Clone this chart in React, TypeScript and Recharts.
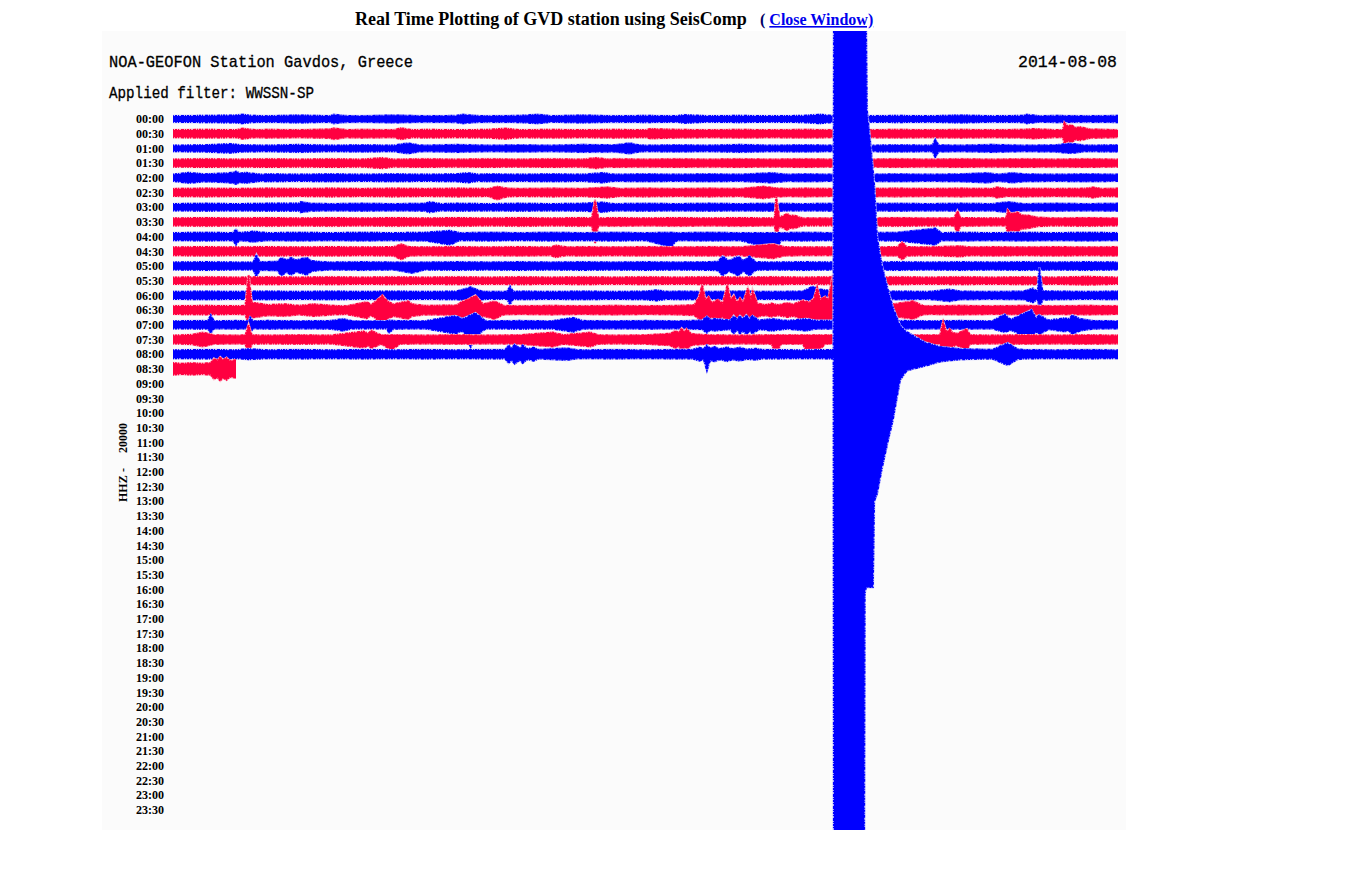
import React from "react";
import { ComposedChart, Area, XAxis, YAxis } from "recharts";

// helicorder: one line = 30 minutes, lines 20000 counts apart
const TIME_LABELS = [
  "00:00", "00:30", "01:00", "01:30", "02:00", "02:30", "03:00", "03:30",
  "04:00", "04:30", "05:00", "05:30", "06:00", "06:30", "07:00", "07:30",
  "08:00", "08:30", "09:00", "09:30", "10:00", "10:30", "11:00", "11:30",
  "12:00", "12:30", "13:00", "13:30", "14:00", "14:30", "15:00", "15:30",
  "16:00", "16:30", "17:00", "17:30", "18:00", "18:30", "19:00", "19:30",
  "20:00", "20:30", "21:00", "21:30", "22:00", "22:30", "23:00", "23:30",
];

// envelope knots per line: [minute, up, down?]  (k counts)
const r0000 = [[0,4],[1,4.5],[2,5],[2.2,6],[2.5,4.5],[3,4],[4,5],[5,4],[5.1,6],[5.4,4.5],[6,4],[7,5],[8,4],[9,4.5],[9.2,6],[9.6,4.5],[10,4],[11,4.5],[11.6,6],[12,4],[13,5],[14,4],[15,4.5],[16,4],[16.2,5.5],[17,4],[18,4.5],[19,4],[20,4.5],[20.55,6],[21,4],[22,4],[23,4.5],[24,4],[25,5],[26,4],[27,4.5],[27.1,6],[27.5,4],[28,4.5],[29,4],[30,4.5]];
const r0030 = [[0,5],[1,5.5],[2,5],[2.2,7],[2.6,5],[3,5.5],[4,5],[5,6],[5.1,7.5],[5.5,5],[6,5.5],[7,5],[7.25,7.5],[7.6,5],[8,5.5],[9,5],[10,5.5],[10.55,7],[11,5],[12,5.5],[13,5],[14,5.5],[15,5],[15.15,6.5],[16,5.5],[17,5],[18,5.5],[19,5],[20,5.5],[21,5],[22,5],[23,5.5],[24,5],[25,5.5],[26,5],[27,5.5],[27.3,6.5],[28,5],[28.25,5],[28.3,15],[28.4,10],[28.5,12],[28.65,8],[28.8,9],[29.1,6],[30,5]];
const r0100 = [[0,4],[1,4.5],[1.8,6],[2.2,4.5],[3,4],[4,5],[5,4],[6,4.5],[7,4],[7.45,7],[7.8,4.5],[8,4],[9,5],[10,4],[11,4.5],[12,4],[13,5],[14,4.5],[14.5,7],[14.8,4.5],[15,4],[16,4.5],[17,4],[18,5],[19,4],[20,4.5],[21,4],[22,4],[23,4.5],[24.1,4],[24.2,12],[24.3,4.5],[25,4],[26,5],[27,4],[28,4.5],[28.5,6.5],[29,4],[30,4.5]];
const r0130 = [[0,5],[1,5.5],[2,5],[3,5.5],[4,5],[5,5.5],[6,5],[6.65,7],[7,5],[8,5.5],[9,5],[10,5.5],[11,5],[12,5.5],[13,5],[13.45,7],[13.8,5],[14,5.5],[15,5],[16,5.5],[17,5],[18,5.5],[19,5],[20,5.5],[21,5],[22,5],[23,5.5],[24,5],[25,5.5],[26,5],[27,5.5],[28,5],[29,5.5],[30,5]];
const r0200 = [[0,4.5],[0.5,7],[1,5],[1.6,6],[1.9,7],[2,8.5],[2.15,6],[2.3,7],[2.8,4.5],[3,5],[4,4.5],[5,5],[6,4.5],[7,5],[8,4.5],[9,5],[9.35,6.5],[9.7,4.5],[10,5],[11,4.5],[12,5],[13,4.5],[13.65,6.5],[14,4.5],[15,5],[16,4.5],[17,5],[18,4.5],[19,6.5],[19.5,4.5],[20,5],[21,4.5],[22,4.5],[23,5],[24,4.5],[25,5],[25.85,6.5],[26.2,4.5],[26.65,6.5],[27,5],[28,4.5],[29,5],[30,4.5]];
const r0230 = [[0,5],[1,5.5],[2,5],[3,5.5],[4,5],[5,5.5],[6,5],[7,5.5],[8,5],[9,5.5],[10,5],[10.3,8,9.5],[10.6,5.5],[11,5],[12,5.5],[13,5],[13.8,7],[14.2,5],[15,5.5],[16,5],[17,5.5],[18,5],[18.75,8],[19.1,6],[19.5,5],[20,5.5],[21,5],[22,5],[23,5.5],[24,5],[25,5.5],[26,5],[26.15,7],[26.5,5],[27,5.5],[28,5],[29,5.5],[29.2,7],[29.5,5],[30,5.5]];
const r0300 = [[0,4.5],[1,5],[2,4.5],[3,5],[4,5],[4.05,7],[4.4,5],[5,4.5],[6,5],[7,4.5],[8,5],[8.15,7],[8.5,4.5],[9,5],[10,4.5],[11,5],[12,4.5],[13,5],[13.65,6.5],[14,4.5],[15,5],[16,4.5],[17,5],[18,4.5],[19,5],[20,4.5],[21,5],[22,4.5],[23,5],[24,4.5],[25,5],[26,4.5],[26.5,7],[27,4.5],[28,5],[29,4.5],[30,5]];
const r0330 = [[0,5],[1,5.5],[2,5],[3,5.5],[4,5],[5,5.5],[6,5],[7,5.5],[8,5],[9,5.5],[10,5],[11,5.5],[12,5],[13,5.5],[13.3,5],[13.4,30,29],[13.5,5],[14,5.5],[15,5],[16,5.5],[17,5],[18,5.5],[19,5],[19.1,5],[19.15,34,18],[19.25,6],[19.5,11],[19.6,8],[19.7,9],[19.9,6],[20,5],[21,5],[22,5],[23,5.5],[24,5],[24.8,5],[24.9,15],[25,5.5],[26,5],[26.45,5],[26.5,16],[26.6,11],[26.8,13],[26.95,9],[27.1,9],[27.45,6],[28,5],[29,5.5],[30,5]];
const r0400 = [[0,5],[1,5.5],[1.9,5],[2,9.5,11],[2.1,5],[2.55,7],[3,5],[4,5.5],[5,5],[6,5.5],[7,5],[8,5.5],[8.8,8,11],[9.1,5],[10,5.5],[11,5],[12,5.5],[13,5],[14,5.5],[15,5],[15.8,5.5,14],[16,5],[17,5.5],[18,5],[19.15,5,18],[19.3,5],[20,5.5],[21,5],[22,5],[23,5.5],[24.2,11,11],[24.4,5],[25,5.5],[26,5],[27,5.5],[28,5],[29,5.5],[30,5]];
const r0430 = [[0,5.5],[1,6],[2,5.5],[3,6],[4,5.5],[5,6],[6,5.5],[7,6],[7.25,9.5,11],[7.5,6],[8,5.5],[9,6],[10,5.5],[11,6],[12,5.5],[12.15,8],[12.5,5.5],[13,6],[14,5.5],[15,6],[16,5.5],[17,6],[18,5.5],[19.05,9.5],[19.4,6],[20,5.5],[21,5.5],[22,5.5],[23,6],[23.15,12,11],[23.3,6],[24,5.5],[25,7],[25.3,5.5],[26,6],[27,5.5],[28,6],[29,5.5],[30,6]];
const r0500 = [[0,5],[1,5.5],[2,5],[2.55,5],[2.65,15,15],[2.75,5.5],[3.3,6],[3.45,11,13],[3.6,8],[3.75,11,12],[3.9,8],[4.1,10],[4.25,11,12],[4.4,7],[4.6,6],[5,5],[6,5.5],[7,5],[7.6,5,9.5],[8,5],[9,5.5],[10,5],[11,5.5],[12,5],[13,5.5],[14,5],[15,5.5],[16,5],[17,5.5],[17.3,6],[17.45,13],[17.65,7],[17.95,13],[18.1,7],[18.3,13],[18.5,5.5],[19,5],[20,5.5],[21,5],[22,5],[23,5.5],[24,5],[25,5.5],[26,5],[27,5.5],[28,5],[29,5.5],[30,5]];
const r0530 = [[0,4.5],[1,5],[2,4.5],[3,5],[4,4.5],[5,5],[6,4.5],[7,5],[8,4.5],[9,5],[10,4.5],[11,5],[12,4.5],[13,5],[14,4.5],[15,5],[16,4.5],[17,5],[18,4.5],[19,5],[20,4.5],[21,5],[22,4.5],[23,5],[24,4.5],[25,5],[26,4.5],[27,5],[28,4.5],[29,5.5],[30,4.5]];
const r0600 = [[0,5],[1,5.5],[2,5],[3,5.5],[4,5],[5,5.5],[6,5],[7,5.5],[8,5],[9,5.5],[9.45,11,7],[9.8,5.5],[10,5],[10.6,5],[10.7,12,12],[10.8,5],[11,5.5],[12,5],[13,5.5],[14,5],[15,5.5],[15.35,7],[15.7,5],[16,5.5],[17,5],[18,5.5],[19,5],[20,5.5],[20.3,12,7],[20.55,8],[21,5.5],[22,5],[23,5.5],[24,5],[24.65,8],[25,5.5],[26,5],[27,5.5],[27.3,9.5],[27.45,5],[27.5,38,19],[27.6,6],[28,5.5],[29,5],[30,5.5]];
const r0630 = [[0,5.5],[1,6],[2,5.5],[2.3,6],[2.4,48,20],[2.5,10],[2.65,9.5],[3,7],[3.55,8],[4,6],[4.45,8],[4.8,7],[5.1,6],[5.5,5.5],[6.15,11],[6.3,7],[6.65,20,18],[6.8,12],[7,8],[7.45,12],[7.6,8],[8,6],[9,6.5],[9.2,12],[9.35,14],[9.6,20,18],[9.85,8],[10.2,12],[10.5,6],[11,5.5],[12,6],[13,5.5],[14,6],[15,5.5],[16,6],[16.55,7],[16.7,18,12],[16.8,34,18],[16.9,14],[17,18,12],[17.1,10],[17.3,14],[17.45,9],[17.6,34,18],[17.7,14],[17.8,20,12],[17.9,10],[18,16,12],[18.1,10],[18.25,30,15],[18.35,14],[18.4,27,14],[18.55,9],[18.8,7],[19,9],[19.2,7],[19.5,9.5],[19.7,8],[20,13],[20.2,10],[20.35,16],[20.45,31,16],[20.55,14],[20.7,18],[20.8,14],[20.95,48,20],[21,20],[22,8],[22.85,8],[23.5,12],[23.8,6],[24,5.5],[25,6],[26,5.5],[27,6],[28,5.5],[29,6],[30,5.5]];
const r0700 = [[0,5],[1,5.5],[1.1,5],[1.2,13,11],[1.3,5],[2,5.5],[2.4,5],[2.45,10,10],[2.55,5],[3,5.5],[4,5],[5,5.5],[5.4,8],[5.7,5],[6.8,5],[6.85,6,11],[7,5.5],[8,5],[8.95,12],[9.2,8],[9.45,13,30],[9.6,16],[9.9,6],[10,5],[11,5.5],[12,5],[12.7,9.5],[13,5.5],[14,5],[15,5.5],[16,5],[16.8,6],[16.95,11],[17.05,7],[17.2,8],[17.7,6],[17.8,12],[17.9,7],[18,12],[18.1,8],[18.2,13],[18.3,8],[18.4,12],[18.6,6],[19,8],[19.5,5.5],[20.1,8],[20.4,5.5],[21,5.5],[22,5],[23.2,5.5],[24,5],[25,5.5],[26,5],[26.4,14,10],[26.6,7],[27.25,20,20],[27.4,9],[27.5,13],[27.8,6],[28.3,9],[28.45,8],[28.55,13,13],[28.8,8],[29.2,5.5],[30,5]];
const r0730 = [[0,5.5],[0.6,6.5],[0.95,9.5],[1.3,6],[2,5.5],[2.3,6],[2.4,20,23],[2.5,6],[3,5.5],[4,6],[5,5.5],[6.05,11],[6.2,8],[6.3,12],[6.6,6],[6.95,6,14],[7.2,6],[8,5.5],[9,6],[10,5.5],[11,6],[12.05,9.5],[12.4,6],[13.25,9.5],[13.5,6],[14,5.5],[15,6],[15.8,8],[15.95,12],[16.05,9],[16.15,15],[16.25,10],[16.3,14],[16.45,8],[16.6,7],[17,6],[18,5.5],[19,6],[19.15,6,20],[19.3,6],[20,6],[20.1,6,15],[20.5,6,15],[20.7,6],[21,6],[22,6],[23.35,6],[24.35,6],[24.45,24,14],[24.55,10],[24.65,14],[24.75,9],[24.9,8],[25.2,14,14],[25.3,6],[26,5.5],[27,6],[28,5.5],[29,6],[30,5.5]];
const r0800 = [[0,5.5],[1,6],[2,5.5],[2.4,7],[3,5.5],[4,6],[5,5.5],[6,6],[7,5.5],[8,6],[9,5.5],[10,6],[10.55,6],[10.65,12],[10.75,8],[10.85,13],[11,8],[11.1,12],[11.25,7],[11.45,9],[11.6,6],[12.5,8],[12.8,6],[13,5.5],[14,6],[15,5.5],[16,6],[16.5,6],[16.7,9],[16.85,7],[16.95,12,22],[17.05,8],[17.2,10],[17.35,7],[17.6,9.5],[17.75,7],[18,9],[18.2,6.5],[18.5,7.5],[18.7,6],[19,6],[20,5.5],[20.97,6],[20.98,460,700],[21.94,460,700],[21.96,460,326],[22,460,317],[22.03,332,317],[22.13,291,317],[22.22,250,317],[22.26,230,200],[22.35,159,190],[22.5,121,156],[22.7,87,117],[22.85,64,90],[23.08,39,35],[23.3,30,22],[23.87,16,16],[24.35,10,10],[25,7],[26,6],[26.5,15,15],[26.8,7],[27,6],[28,5.5],[29,6],[30,5.5]];
const r0830 = [[0,8],[0.3,7],[0.6,8],[0.9,7],[1.2,8],[1.3,14],[1.4,11],[1.5,16],[1.6,12],[1.7,15],[1.8,11],[2,12]];

const TRACES = [r0000, r0030, r0100, r0130, r0200, r0230, r0300, r0330, r0400, r0430, r0500, r0530, r0600, r0630, r0700, r0730, r0800, r0830];

const OFFSET = 20; // k counts between lines

const DARK = ["#0000ff", "#ff0040"];
const LIGHT = ["#c4c4ff", "#ffb8c8"];

export default function App() {
  const tables = TRACES.map((knots, i) =>
    knots.map((k) => ({
      m: k[0],
      band: [i * OFFSET - k[1], i * OFFSET + (k[2] ?? k[1])],
    }))
  );
  const ticks = TIME_LABELS.map((_, i) => i * OFFSET);

  const series: React.ReactNode[] = [];
  tables.forEach((data, i) => {
    // 薄い縁
    series.push(
      <Area key={"h" + i} data={data} dataKey="band" type="linear"
        stroke={LIGHT[i % 2]} strokeWidth={2.4} fill={LIGHT[i % 2]}
        dot={false} activeDot={false} isAnimationActive={false} />
    );
    // 波形本体 (ギザギザの縁)
    series.push(
      <Area key={"c" + i} data={data} dataKey="band" type="linear"
        stroke={DARK[i % 2]} strokeWidth={1.8} strokeDasharray="1 1 2 1 1 2 3 1"
        fill={DARK[i % 2]} fillOpacity={1}
        dot={false} activeDot={false} isAnimationActive={false} />
    );
  });

  return (
    <div style={{ position: "absolute", left: 0, top: 0, width: 1358, height: 887, background: "#fff" }}>
      {/* 画像部分の背景 */}
      <div style={{ position: "absolute", left: 102, top: 31, width: 1024, height: 799, background: "#fbfbfb" }} />

      <div style={{ position: "absolute", left: 0, top: 0 }}>
        <ComposedChart width={1358} height={887} margin={{ top: 31, right: 240, bottom: 57, left: 113 }}>
          <XAxis type="number" dataKey="m" domain={[0, 30]} hide allowDataOverflow />
          <YAxis
            type="number"
            domain={[-119.7, 967.3]}
            reversed
            allowDataOverflow
            ticks={ticks}
            interval={0}
            width={60}
            axisLine={false}
            tickLine={false}
            tickSize={0}
            tickMargin={9}
            tickFormatter={(v: number) => TIME_LABELS[Math.round(v / OFFSET)]}
            tick={{ fill: "#000", fontSize: 12, fontFamily: "Liberation Serif", fontWeight: "bold" }}
          />
          {series}
        </ComposedChart>
      </div>

      <svg width={1358} height={887} style={{ position: "absolute", left: 0, top: 0, pointerEvents: "none" }}>
        <text x={355} y={25} fontFamily="Liberation Serif" fontWeight="bold" fontSize={18} fill="#000">
          Real Time Plotting of GVD station using SeisComp
        </text>
        <text x={760} y={25} fontFamily="Liberation Serif" fontWeight="bold" fontSize={16}>
          <tspan fill="#000066">( </tspan>
          <tspan fill="#0000ee" style={{ textDecoration: "underline" }}>Close Window)</tspan>
        </text>
        <g fontFamily="Liberation Mono" fontSize={17} fill="#000" stroke="#000" strokeWidth={0.3}>
          <text x={109} y={67} textLength={304} lengthAdjust="spacingAndGlyphs">
            NOA-GEOFON Station Gavdos, Greece
          </text>
          <text x={1018} y={67} textLength={99} lengthAdjust="spacingAndGlyphs">
            2014-08-08
          </text>
          <text x={109} y={98} textLength={205} lengthAdjust="spacingAndGlyphs">
            Applied filter: WWSSN-SP
          </text>
        </g>
        <g transform="rotate(-90 127 462)" fontFamily="Liberation Serif" fontWeight="bold" fontSize={12} fill="#000">
          <text x={87} y={462}>HHZ</text>
          <text x={119} y={462} textAnchor="middle">-</text>
          <text x={166} y={462} textAnchor="end">20000</text>
        </g>
      </svg>
    </div>
  );
}
